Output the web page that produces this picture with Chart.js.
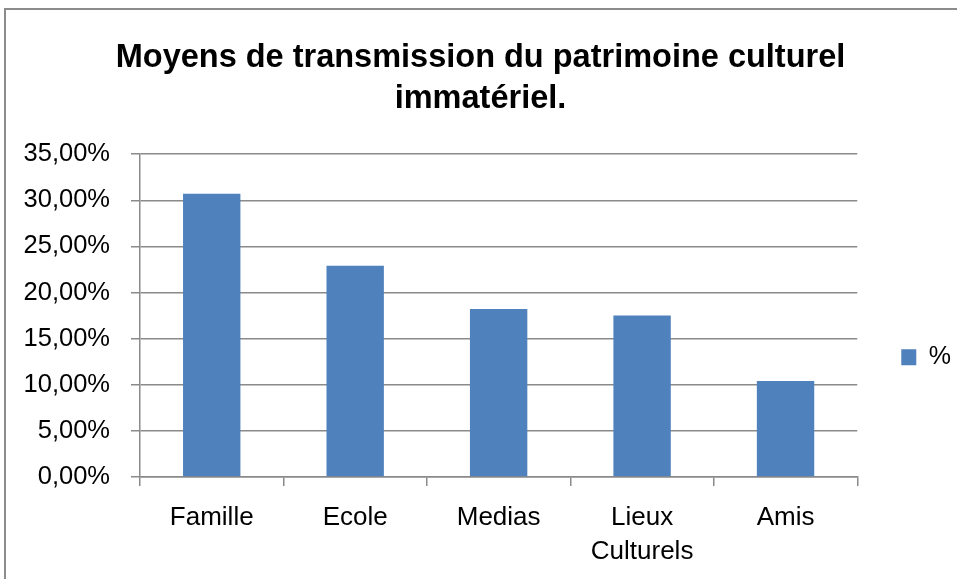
<!DOCTYPE html>
<html>
<head>
<meta charset="utf-8">
<script src="https://cdn.jsdelivr.net/npm/chart.js@4.4.0/dist/chart.umd.min.js"></script>
<style>
    html, body { margin: 0; padding: 0; background: #fff; overflow: hidden; }
    .frame { position: absolute; left: 4px; top: 8px; width: 2000px; height: 2000px; border: 2px solid #8c8c8c; }
    .wrap { position: absolute; left: 0; top: 0; width: 957px; height: 579px; }
</style>
</head>
<body>
<div class="frame"></div>
<div class="wrap"><canvas id="chart"></canvas></div>
<script>
const categories = ['Famille', 'Ecole', 'Medias', ['Lieux', 'Culturels'], 'Amis'];
const percentValues = [30.7, 22.9, 18.2, 17.5, 10.4];
const yTicks = [0, 5, 10, 15, 20, 25, 30, 35];
const seriesLabel = '%';
const chartTitle = ['Moyens de transmission du patrimoine culturel', 'immatériel.'];

const fontFamily = '"Liberation Sans", Arial, sans-serif';
const gridColor = '#8a8a8a';

function formatPercent(v) {
    return v.toFixed(2).replace('.', ',') + '%';
}

document.addEventListener('DOMContentLoaded', function() {
    const ctx = document.getElementById('chart');

    new Chart(ctx, {
        type: 'bar',
        data: {
            labels: categories,
            datasets: [{
                label: seriesLabel,
                data: percentValues,
                backgroundColor: '#4f81bd',
                borderWidth: 0,
                categoryPercentage: 1,
                barPercentage: 0.4
            }]
        },
        options: {
            responsive: true,
            maintainAspectRatio: false,
            animation: false,
            layout: {
                padding: { left: 0, right: -4, top: 0, bottom: -5 }
            },
            scales: {
                x: {
                    grid: {
                        offset: true,
                        drawOnChartArea: false,
                        drawTicks: true,
                        tickLength: 9,
                        color: gridColor,
                        lineWidth: 1.5
                    },
                    border: { display: true, color: gridColor, width: 1.5 },
                    ticks: {
                        color: '#000',
                        padding: 15,
                        maxRotation: 0,
                        font: { family: fontFamily, size: 26, lineHeight: 1.31 }
                    }
                },
                y: {
                    min: 0,
                    max: 35,
                    afterFit: function(scale) { scale.width = 140; },
                    afterBuildTicks: function(scale) {
                        scale.ticks = yTicks.map(v => ({ value: v }));
                    },
                    grid: {
                        color: gridColor,
                        lineWidth: 1.5,
                        tickLength: 9
                    },
                    border: { display: true, color: gridColor, width: 1.5 },
                    ticks: {
                        color: '#000',
                        padding: 21,
                        font: { family: fontFamily, size: 25.5 },
                        callback: function(value) { return formatPercent(value); }
                    }
                }
            },
            plugins: {
                title: {
                    display: true,
                    text: chartTitle,
                    color: '#000',
                    font: { family: fontFamily, size: 32.5, weight: 'bold', lineHeight: 1.28 },
                    padding: { top: 37, bottom: 34 }
                },
                legend: {
                    position: 'right',
                    title: {
                        display: true,
                        text: ' ',
                        padding: { top: 58, bottom: 58 }
                    },
                    labels: {
                        color: '#000',
                        boxWidth: 15,
                        boxHeight: 16,
                        padding: 44,
                        font: { family: fontFamily, size: 25 }
                    }
                },
                tooltip: { enabled: false }
            }
        }
    });
});
</script>
</body>
</html>
